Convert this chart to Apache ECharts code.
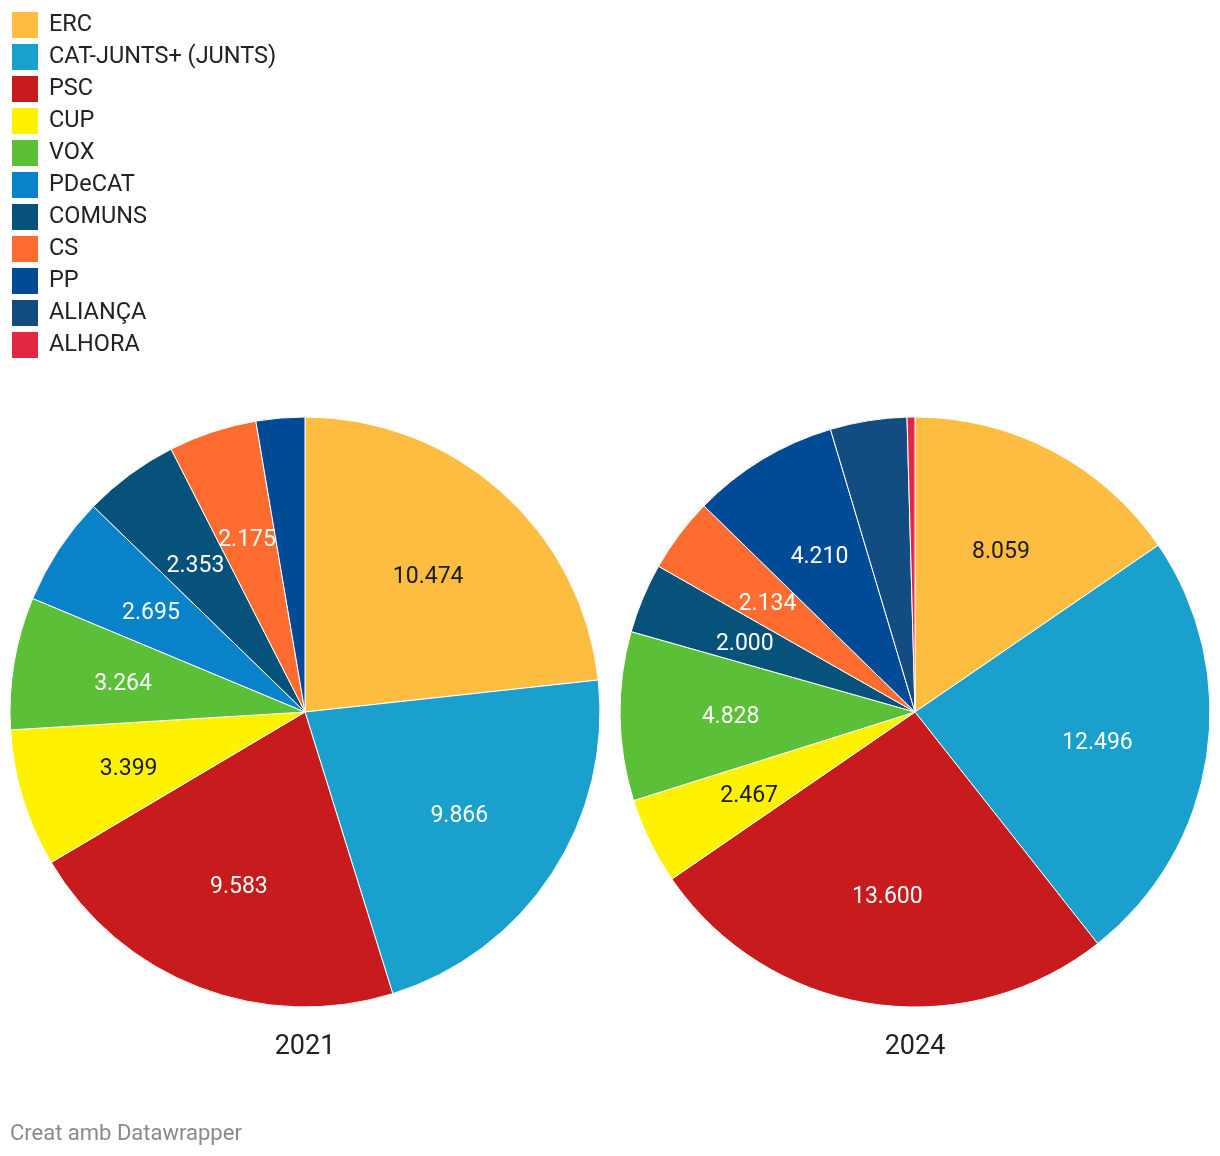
<!DOCTYPE html>
<html>
<head>
<meta charset="utf-8">
<script src="https://cdn.jsdelivr.net/npm/echarts@6/dist/echarts.min.js"></script>
<style>
html,body{margin:0;padding:0;background:#fff;}
#chart{width:1220px;height:1156px;}
</style>
</head>
<body>
<div id="chart"></div>
<script>
// Parties (legend order)
const parties = ["ERC","CAT-JUNTS+ (JUNTS)","PSC","CUP","VOX","PDeCAT","COMUNS","CS","PP","ALIANÇA","ALHORA"];
const partyColors = ["#fdbd40","#19a0cc","#c71b1d","#fff200","#5bbf37","#0882c8","#06527a","#ff6c2f","#014b96","#134c80","#e52841"];
const labelDark = ["ERC","CUP"];

// 2021 votes
const parties2021 = ["ERC","CAT-JUNTS+ (JUNTS)","PSC","CUP","VOX","PDeCAT","COMUNS","CS","PP"];
const votes2021 = [10474, 9866, 9583, 3399, 3264, 2695, 2353, 2175, 1200];
const hidden2021 = ["PP"];

// 2024 votes
const parties2024 = ["ERC","CAT-JUNTS+ (JUNTS)","PSC","CUP","VOX","COMUNS","CS","PP","ALIANÇA","ALHORA"];
const votes2024 = [8059, 12496, 13600, 2467, 4828, 2000, 2134, 4210, 2190, 225];
const hidden2024 = ["ALIANÇA","ALHORA"];

const years = ["2021","2024"];

const FONT = "Roboto, 'Noto Sans', sans-serif";
function colorOf(n){ return partyColors[parties.indexOf(n)]; }
function fmt(v){ return String(v).replace(/\B(?=(\d{3})+(?!\d))/g, "."); }

function mainSeries(names, vals, cx){
  return {
    type:'pie', center:[cx, 712], radius:[0, 295], startAngle:90, clockwise:true,
    silent:true, animation:false,
    label:{show:false}, labelLine:{show:false},
    itemStyle:{borderColor:'#fff', borderWidth:1},
    data: names.map((n,i)=>({name:n, value:vals[i], itemStyle:{color:colorOf(n)}}))
  };
}
function labelSeries(names, vals, cx, hidden){
  return {
    type:'pie', center:[cx, 715], radius:[68, 295], startAngle:90, clockwise:true,
    silent:true, animation:false, legendHoverLink:false,
    itemStyle:{color:'rgba(0,0,0,0)', borderWidth:0},
    labelLine:{show:false},
    data: names.map((n,i)=>({
      name:n, value:vals[i],
      label:{
        show: hidden.indexOf(n) < 0,
        position:'inside',
        formatter: fmt(vals[i]),
        color: labelDark.indexOf(n) >= 0 ? '#1a1a1a' : '#ffffff',
        fontSize:23, fontFamily:FONT
      }
    }))
  };
}

const chart = echarts.init(document.getElementById('chart'), null, {renderer:'canvas'});
chart.setOption({
  backgroundColor:'#fff',
  animation:false,
  title:[
    {text:years[0], left:305, top:1034, padding:0, textAlign:'center', textStyle:{fontSize:27, fontWeight:'normal', color:'#222', fontFamily:FONT}},
    {text:years[1], left:915, top:1034, padding:0, textAlign:'center', textStyle:{fontSize:27, fontWeight:'normal', color:'#222', fontFamily:FONT}},
    {text:'Creat amb Datawrapper', left:10, top:1123, padding:0, textStyle:{fontSize:22, fontWeight:'normal', color:'#8a8a8a', fontFamily:FONT}}
  ],
  legend:{
    orient:'vertical', left:10, top:10, padding:0, icon:'rect',
    itemWidth:28, itemHeight:28, itemGap:2,
    selectedMode:false,
    textStyle:{fontSize:23.5, lineHeight:28, color:'#222', fontFamily:FONT, padding:[0,0,0,5]},
    data: parties.map((p,i)=>({name:p, itemStyle:{color:partyColors[i]}}))
  },
  series:[
    mainSeries(parties2021, votes2021, 305),
    mainSeries(parties2024, votes2024, 915),
    labelSeries(parties2021, votes2021, 305, hidden2021),
    labelSeries(parties2024, votes2024, 915, hidden2024)
  ]
});
</script>
</body>
</html>
